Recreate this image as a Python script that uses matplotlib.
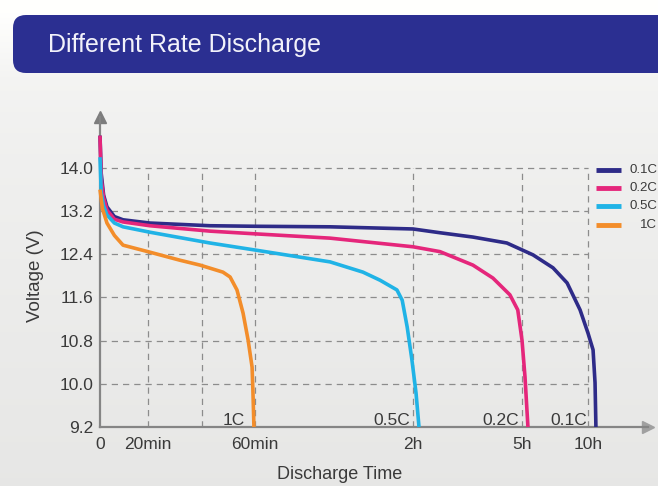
import numpy as np
import matplotlib
matplotlib.use("Agg")
import matplotlib.pyplot as plt
from matplotlib.patches import FancyBboxPatch
from matplotlib.lines import Line2D

plt.rcParams['font.family'] = ['Liberation Sans', 'DejaVu Sans']

# ---------------- data ----------------
title = "Different Rate Discharge"
series_names = ["0.1C", "0.2C", "0.5C", "1C"]
series_colors = ["#2e2b88", "#e5267b", "#20b3e6", "#f38d2a"]

# discharge time in minutes, voltage in V
t_01c = [0, 0.5, 1.5, 2.9, 6, 9.6, 20.7, 43, 60, 88.5, 120, 164.6, 219, 275, 350, 441, 505, 564, 600, 623, 632, 636]
v_01c = [14.6, 13.9, 13.5, 13.28, 13.1, 13.04, 12.98, 12.93, 12.92, 12.91, 12.87, 12.80, 12.72, 12.61, 12.39, 12.15, 11.87, 11.37, 10.94, 10.63, 10.02, 9.2]

t_02c = [0, 0.5, 1.5, 2.9, 6, 9.6, 20.7, 43, 60, 88.5, 120, 164.6, 219, 252, 280, 293, 300, 313.6, 327]
v_02c = [14.6, 13.8, 13.45, 13.22, 13.05, 13.0, 12.93, 12.83, 12.78, 12.70, 12.54, 12.45, 12.20, 11.96, 11.65, 11.37, 10.81, 10.13, 9.2]

t_05c = [0, 0.5, 1.5, 2.9, 6, 9.6, 20.7, 43, 60, 88.5, 101, 107.5, 113.9, 115.9, 117.8, 119.6, 125, 129.9]
v_05c = [14.2, 13.55, 13.3, 13.13, 12.98, 12.91, 12.81, 12.61, 12.48, 12.26, 12.07, 11.92, 11.74, 11.55, 11.05, 10.44, 9.83, 9.2]

t_1c = [0, 1, 2.9, 6, 9.6, 20.7, 31.9, 39.3, 47.9, 50.6, 53.2, 55.5, 57.4, 58.9, 59.2, 59.6]
v_1c = [13.6, 13.25, 12.98, 12.75, 12.57, 12.44, 12.29, 12.2, 12.07, 11.98, 11.74, 11.31, 10.81, 10.31, 9.89, 9.2]

y_ticks = [9.2, 10.0, 10.8, 11.6, 12.4, 13.2, 14.0]
y_ticklabels = ["9.2", "10.0", "10.8", "11.6", "12.4", "13.2", "14.0"]
x_ticks = [0, 20, 60, 120, 300, 600]
x_ticklabels = ["0", "20min", "60min", "2h", "5h", "10h"]
x_grid = [20, 40, 60, 120, 300, 600]

# piecewise time axis (minutes -> axis position)
scale_t = [0, 20, 40, 60, 120, 300, 600, 1000]
scale_p = [0, 48, 102, 155, 313, 422, 488, 576]

# ---------------- figure ----------------
W, H = 658, 486
fig = plt.figure(figsize=(W / 100, H / 100), dpi=100)

# background axes in pixel coordinates
bg = fig.add_axes([0, 0, 1, 1], zorder=-5)
bg.axis("off")
grad = np.interp(np.arange(H), [0, 13, 80, 160, H], [1.0, 1.0, 0.955, 0.94, 0.905])
img = np.stack([grad, grad, grad * 0.995], axis=-1)[:, None, :].repeat(2, axis=1)
bg.imshow(img, extent=[0, W, H, 0], aspect="auto", interpolation="bilinear")
bg.add_patch(FancyBboxPatch((13, 15), 720, 58, boxstyle="round,pad=0,rounding_size=13",
                            facecolor="#2b2f91", edgecolor="none"))
bg.text(48, 52, title, color="#f2f2fa", fontsize=18, va="baseline", ha="left")
bg.set_xlim(0, W)
bg.set_ylim(H, 0)

# main axes
x0, x1, ybot, ytop = 100, 648, 427, 117
ax = fig.add_axes([x0 / W, (H - ybot) / H, (x1 - x0) / W, (ybot - ytop) / H])
ax.patch.set_alpha(0)


def fwd(t):
    return np.interp(t, scale_t, scale_p)


def inv(p):
    return np.interp(p, scale_p, scale_t)


ax.set_xscale("function", functions=(fwd, inv))
ax.set_xlim(0, inv(x1 - x0))
px_per_v = (ybot - 168) / 4.8
ax.set_ylim(9.2, 9.2 + (ybot - ytop) / px_per_v)

for sp in ["top", "right"]:
    ax.spines[sp].set_visible(False)
for sp in ["left", "bottom"]:
    ax.spines[sp].set_color("#858585")
    ax.spines[sp].set_linewidth(1.6)
ax.plot([0], [1], marker="^", markersize=9, color="#7d7d7d", transform=ax.transAxes, clip_on=False)
ax.plot([1], [0], marker=">", markersize=9, color="#a0a0a0", transform=ax.transAxes, clip_on=False)

# grid
gkw = dict(colors="#8c8c8c", linestyles=(0, (5, 4)), linewidth=0.9, zorder=1)
ax.hlines(y_ticks[1:], 0, x_grid[-1], **gkw)
ax.vlines(x_grid, y_ticks[0], y_ticks[-1], **gkw)

# ticks
ax.set_yticks(y_ticks, y_ticklabels)
ax.set_xticks(x_ticks, x_ticklabels)
ax.xaxis.set_minor_locator(matplotlib.ticker.NullLocator())
ax.tick_params(axis="both", length=0, labelsize=12.5, labelcolor="#3a3a3a")
ax.tick_params(axis="y", pad=5)
ax.tick_params(axis="x", pad=7)

series_t = [t_01c, t_02c, t_05c, t_1c]
series_v = [v_01c, v_02c, v_05c, v_1c]
for t, v, c, name in zip(series_t, series_v, series_colors, series_names):
    ax.plot(t, v, color=c, linewidth=2.6, solid_joinstyle="round", solid_capstyle="butt",
            clip_on=False, zorder=3)
    ax.annotate(name, xy=(t[-1], 9.2), xytext=(-6.5, 1.5), textcoords="offset points",
                ha="right", va="baseline", fontsize=12.5, color="#3a3a3a")

# axis titles
bg.text(36, 276, "Voltage (V)", fontsize=13.5, color="#3a3a3a", ha="center", va="center",
        rotation=90)
bg.text(340, 474, "Discharge Time", fontsize=13, color="#3a3a3a", ha="center", va="center")

# legend (right side)
for i, (c, name) in enumerate(zip(series_colors, series_names)):
    yy = 170 + i * 18.2
    bg.add_line(Line2D([596, 621], [yy, yy], color=c, linewidth=3.5, solid_capstyle="butt"))
    bg.text(657, yy, name, fontsize=9.5, color="#3a3a3a", ha="right", va="center")

fig.savefig("out.png", dpi=100)
